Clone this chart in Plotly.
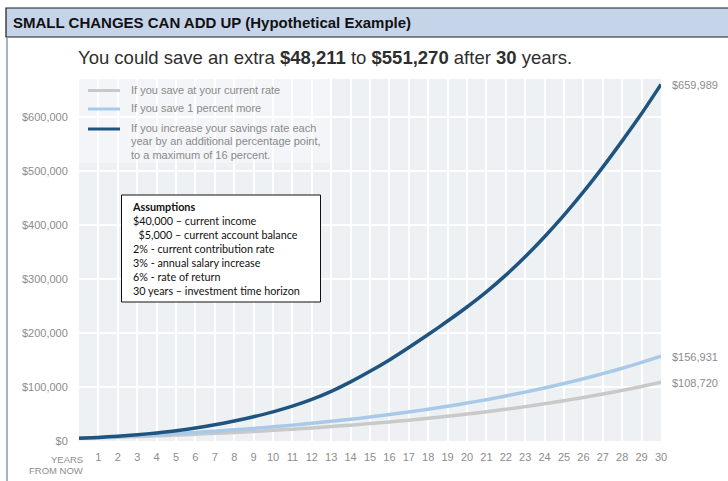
import plotly.graph_objects as go

years = list(range(0, 31))

current_rate = [5000, 6024, 7131, 8328, 9619, 11008, 12508, 14123, 15861, 17729,
                19742, 21900, 24215, 26701, 29361, 32219, 35284, 38565, 42073, 45826,
                49846, 54146, 58742, 63653, 68897, 74506, 80493, 86882, 93708, 100983,
                108720]
one_percent_more = [5000, 6460, 8042, 9756, 11610, 13608, 15769, 18101, 20613, 23318,
                    26238, 29373, 32739, 36358, 40234, 44405, 48882, 53681, 58815, 64312,
                    70207, 76518, 83267, 90484, 98196, 106452, 115269, 124683, 134749, 145482,
                    156931]
increase_yearly = [5000, 6600, 8800, 11500, 15000, 19000, 24000, 30000, 37000, 45000,
                   54000, 64500, 77000, 92000, 109500, 129000, 150000, 173000, 197000, 222000,
                   248000, 276000, 307000, 341000, 378000, 418000, 461000, 507000, 555500, 606000,
                   659989]

series_names = ["If you save at your current rate",
                "If you save 1 percent more",
                ["If you increase your savings rate each",
                 "year by an additional percentage point,",
                 "to a maximum of 16 percent."]]
series_colors = ["#c9c9c9", "#a9c9e8", "#1f5480"]
series_values = [current_rate, one_percent_more, increase_yearly]
end_labels = ["$108,720", "$156,931", "$659,989"]

y_ticks = [0, 100000, 200000, 300000, 400000, 500000, 600000]
y_tick_text = ["$0", "$100,000", "$200,000", "$300,000", "$400,000", "$500,000", "$600,000"]
x_ticks = years[1:]

title_text = "SMALL CHANGES CAN ADD UP (Hypothetical Example)"
subtitle_text = "You could save an extra <b>$48,211</b> to <b>$551,270</b> after <b>30</b> years."
assumptions = ["<b>Assumptions</b>",
               "$40,000 – current income",
               "  $5,000 – current account balance",
               "2% - current contribution rate",
               "3% - annual salary increase",
               "6% - rate of return",
               "30 years – investment time horizon"]

# plot area in pixels
L, R, T, B = 79, 661, 79, 441
W, H = 728, 481
def px(x):
    return (x - L) / (R - L)
def py(y):
    return (B - y) / (B - T)

FONT = "Liberation Sans, Arial, sans-serif"
GRAY = "#8c8c8c"

fig = go.Figure()
for name, vals, col in zip(series_names, series_values, series_colors):
    fig.add_trace(go.Scatter(x=years, y=vals, mode="lines",
                             name=name if isinstance(name, str) else " ".join(name),
                             line=dict(color=col, width=3.5, shape="spline", smoothing=0.8),
                             showlegend=False, hoverinfo="skip"))

annotations = []
shapes = []

# end labels
for vals, lab in zip(series_values, end_labels):
    annotations.append(dict(x=years[-1], y=vals[-1], xref="x", yref="y", text=lab,
                            showarrow=False, xanchor="left", yanchor="middle", xshift=9, yshift=-1,
                            font=dict(family=FONT, size=11, color=GRAY)))

# title bar
shapes.append(dict(type="rect", xref="paper", yref="paper",
                   x0=px(6), x1=px(740), y0=py(37), y1=py(8),
                   fillcolor="#c6d4ea", line=dict(color="#1a1a1a", width=1.2), layer="above"))
shapes.append(dict(type="line", xref="paper", yref="paper",
                   x0=px(7), x1=px(7), y0=py(38), y1=py(490),
                   line=dict(color="#9fb6c6", width=2)))
annotations.append(dict(x=px(11), y=py(22.5), xref="paper", yref="paper", text="<b>" + title_text + "</b>",
                        showarrow=False, xanchor="left", yanchor="middle",
                        font=dict(family=FONT, size=15, color="#111111")))
annotations.append(dict(x=px(325), y=py(57), xref="paper", yref="paper", text=subtitle_text,
                        showarrow=False, xanchor="center", yanchor="middle",
                        font=dict(family=FONT, size=18.5, color="#2e2e2e")))

# legend (manual)
shapes.append(dict(type="rect", xref="paper", yref="paper",
                   x0=0, x1=px(330), y0=py(163), y1=1,
                   fillcolor="rgba(246,248,250,0.6)", line=dict(width=0), layer="between"))
leg_y = [90.5, 109, 129]
for i in range(3):
    shapes.append(dict(type="line", xref="paper", yref="paper",
                       x0=px(88), x1=px(120), y0=py(leg_y[i]), y1=py(leg_y[i]),
                       line=dict(color=series_colors[i], width=3)))
    lines = series_names[i] if isinstance(series_names[i], list) else [series_names[i]]
    for j, ln in enumerate(lines):
        annotations.append(dict(x=px(129), y=py(leg_y[i] - 1 + 13.3 * j), xref="paper", yref="paper",
                                text=ln, showarrow=False, xanchor="left", yanchor="middle",
                                align="left", font=dict(family=FONT, size=11, color="#8a8a8a")))

# assumptions box
shapes.append(dict(type="rect", xref="paper", yref="paper",
                   x0=px(121.5), x1=px(320.5), y0=py(302), y1=py(195),
                   fillcolor="white", line=dict(color="#111111", width=1), layer="above"))
annotations.append(dict(x=px(130), y=py(248.5), xref="paper", yref="paper",
                        text="<br>".join(a.replace("  ", "&nbsp;&nbsp;") for a in assumptions),
                        showarrow=False, xanchor="left", yanchor="middle", align="left",
                        font=dict(family="Lato, Carlito, sans-serif", size=10.8, color="#111111")))

# YEARS FROM NOW
annotations.append(dict(x=px(85), y=py(459), xref="paper", yref="paper", text="YEARS",
                        showarrow=False, xanchor="right", yanchor="middle",
                        font=dict(family=FONT, size=9.5, color=GRAY)))
annotations.append(dict(x=px(85), y=py(471), xref="paper", yref="paper", text="FROM NOW",
                        showarrow=False, xanchor="right", yanchor="middle",
                        font=dict(family=FONT, size=9.5, color=GRAY)))

fig.update_layout(
    width=W, height=H,
    margin=dict(l=L, r=W - R, t=T, b=H - B, pad=0),
    paper_bgcolor="white", plot_bgcolor="#edf1f4",
    shapes=shapes, annotations=annotations,
    showlegend=False,
    font=dict(family=FONT),
)
fig.update_xaxes(range=[0, 30], tickvals=x_ticks, showgrid=True, gridcolor="white", gridwidth=2,
                 zeroline=False, showline=False, ticks="outside", ticklen=6, tickcolor="rgba(0,0,0,0)",
                 tickfont=dict(family=FONT, size=11, color=GRAY), fixedrange=True)
fig.update_yaxes(range=[0, 670000], tickvals=y_ticks, ticktext=y_tick_text,
                 showgrid=True, gridcolor="white", gridwidth=2, zeroline=False, showline=False,
                 ticks="outside", ticklen=8, tickcolor="rgba(0,0,0,0)",
                 tickfont=dict(family=FONT, size=11, color=GRAY), fixedrange=True)

fig.write_html("out.html", config={"displayModeBar": False})
